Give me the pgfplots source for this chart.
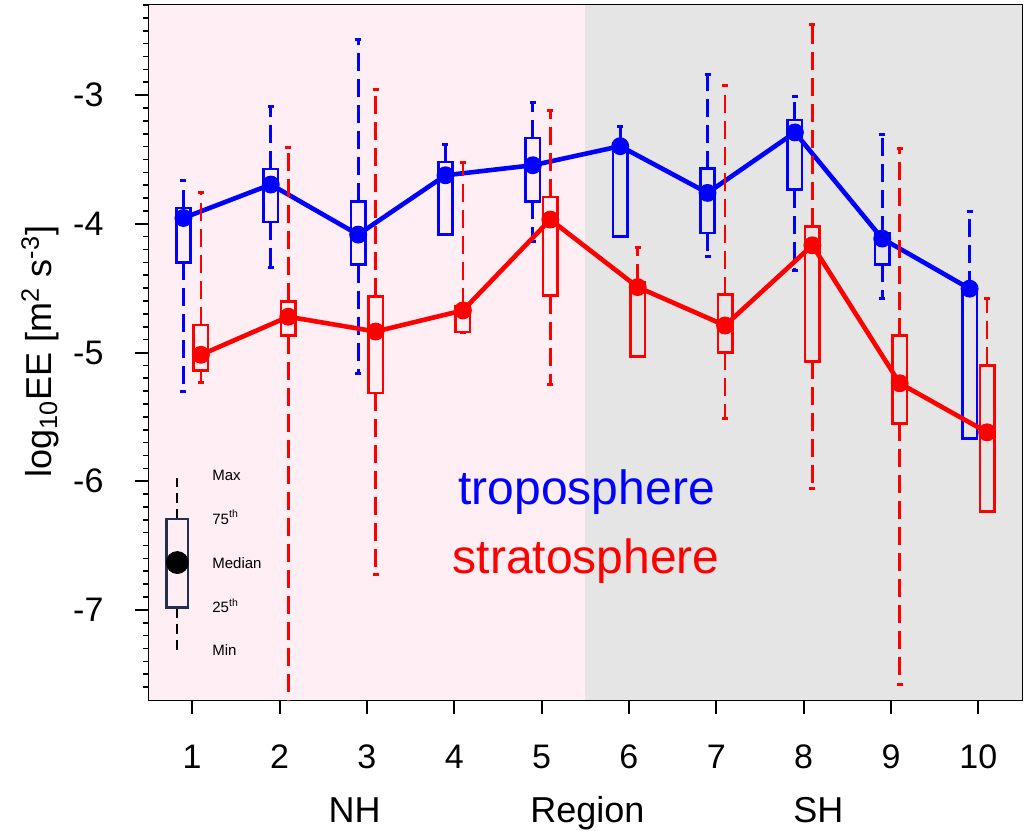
\documentclass[border=0pt]{standalone}
\usepackage{fontspec}
\setmainfont{Liberation Sans}
\usepackage{pgfplots}
\usepackage{pgfplotstable}
\pgfplotsset{compat=1.18}

\definecolor{nhpink}{RGB}{255,238,243}
\definecolor{shgray}{RGB}{229,229,229}
\definecolor{keynavy}{RGB}{31,48,80}

% region statistics: position, min, lower quartile, median, upper quartile, max
\pgfplotstableread{
x    min    q1     med    q3     max
0.9  -5.300 -4.300 -3.955 -3.877 -3.661
1.9  -4.336 -3.986 -3.695 -3.573 -3.088
2.9  -5.166 -4.318 -4.084 -3.825 -2.567
3.9  -4.082 -4.082 -3.623 -3.519 -3.381
4.9  -4.136 -3.825 -3.545 -3.332 -3.060
5.9  -4.097 -4.097 -3.397 -3.397 -3.241
6.9  -4.253 -4.071 -3.760 -3.571 -2.837
7.9  -4.362 -3.734 -3.290 -3.195 -3.013
8.9  -4.577 -4.315 -4.115 -4.076 -3.306
9.9  -5.667 -5.667 -4.504 -4.504 -3.903
}\tropo
\pgfplotstableread{
x    min    q1     med    q3     max
1.1  -5.231 -5.140 -5.018 -4.785 -3.760
2.1  -8.000 -4.868 -4.722 -4.603 -3.405
3.1  -6.722 -5.314 -4.837 -4.564 -2.956
4.1  -4.842 -4.842 -4.673 -4.640 -3.524
5.1  -5.251 -4.559 -3.967 -3.791 -3.117
6.1  -5.029 -5.029 -4.492 -4.453 -4.185
7.1  -5.514 -4.998 -4.790 -4.551 -2.928
8.1  -6.058 -5.068 -4.167 -4.019 -2.455
9.1  -7.576 -5.550 -5.239 -4.868 -3.415
10.1 -6.237 -6.237 -5.620 -5.101 -4.577
}\strato

\pgfplotsset{
  % a plot that shows only its error bars
  barsonly/.style={only marks, mark=text, text mark={}, forget plot},
  whisker/.style={barsonly,
    error bars/y explicit, error bars/error mark=|,
    error bars/error bar style={#1, line width=1.4pt, dash pattern=on 9pt off 4pt},
    error bars/error mark options={#1, solid, line width=1.5pt, mark size=1.5pt}},
  boxside/.style={barsonly,
    error bars/y explicit, error bars/y dir=plus, error bars/error mark=none,
    error bars/error bar style={#1, solid, line width=1.3pt, line cap=rect}},
  boxedge/.style={barsonly,
    error bars/x dir=both, error bars/x fixed=0.0825, error bars/error mark=none,
    error bars/error bar style={#1, solid, line width=1.3pt, line cap=rect}},
}

% boxes and whiskers of one series
\newcommand{\boxseries}[2]{%
  \addplot[#1, whisker=#1, error bars/y dir=plus]
    table[x=x, y=q3, y error expr=\thisrow{max}-\thisrow{q3}] {#2};
  \addplot[#1, whisker=#1, error bars/y dir=minus]
    table[x=x, y=q1, y error expr=\thisrow{q1}-\thisrow{min}] {#2};
  \addplot[#1, boxside=#1]
    table[x expr=\thisrow{x}-0.0825, y=q1, y error expr=\thisrow{q3}-\thisrow{q1}] {#2};
  \addplot[#1, boxside=#1]
    table[x expr=\thisrow{x}+0.0825, y=q1, y error expr=\thisrow{q3}-\thisrow{q1}] {#2};
  \addplot[#1, boxedge=#1] table[x=x, y=q1] {#2};
  \addplot[#1, boxedge=#1] table[x=x, y=q3] {#2};
}

\begin{document}
\begin{tikzpicture}
\begin{axis}[
  at={(0,0)}, anchor=south west,
  scale only axis, width=436.75pt, height=347.5pt,
  xmin=0.5, xmax=10.5, ymin=-7.7, ymax=-2.3,
  xtick={1,...,10}, xticklabels={1,2,3,4,5,6,7,8,9,10},
  ytick={-7,-6,-5,-4,-3}, yticklabels={-7,-6,-5,-4,-3},
  minor ytick={-7.6,-7.5,...,-2.35},
  tick align=outside, xtick pos=left, ytick pos=left,
  major tick length=7pt, minor tick length=3pt,
  major tick style={black, line width=1pt},
  minor tick style={black, line width=0.8pt},
  axis line style={line width=1pt},
  tick label style={font=\fontsize{17}{20}\selectfont},
  xticklabel style={yshift=-12pt},
  yticklabel style={xshift=-12pt},
]
% hemisphere shading
\addplot[draw=none, fill=nhpink] coordinates {(0.5,-7.7) (5.5,-7.7) (5.5,-2.3) (0.5,-2.3)};
\addplot[draw=none, fill=shgray] coordinates {(5.5,-7.7) (10.5,-7.7) (10.5,-2.3) (5.5,-2.3)};

% troposphere
\boxseries{blue}{\tropo}
\addplot[blue, line width=2.3pt, mark=*, mark size=3.3pt, mark options={solid}]
  table[x=x, y=med] {\tropo};

% stratosphere
\boxseries{red}{\strato}
\addplot[red, line width=2.3pt, mark=*, mark size=3.3pt, mark options={solid}]
  table[x=x, y=med] {\strato};

% key
\addplot[black, line width=1.1pt, dash pattern=on 5pt off 3pt, unbounded coords=jump]
  coordinates {(0.83,-6.294) (0.83,-5.978) (0.83,nan) (0.83,-6.982) (0.83,-7.314)};
\addplot[keynavy, barsonly,
  error bars/y explicit, error bars/y dir=plus, error bars/error mark=none,
  error bars/error bar style={keynavy, solid, line width=1.1pt, line cap=rect}]
  coordinates {(0.705,-6.982) +- (0,0.688) (0.955,-6.982) +- (0,0.688)};
\addplot[keynavy, barsonly,
  error bars/x dir=both, error bars/x fixed=0.125, error bars/error mark=none,
  error bars/error bar style={keynavy, solid, line width=1.1pt, line cap=rect}]
  coordinates {(0.83,-6.982) (0.83,-6.294)};
\addplot[black, only marks, mark=*, mark size=5.5pt] coordinates {(0.83,-6.632)};
\begin{scope}[every node/.style={anchor=base west, font=\fontsize{7.5}{9}\selectfont, inner sep=0pt}]
\node at (axis description cs:0.0727,0.3165) {Max};
\node at (axis description cs:0.0727,0.2532) {75\textsuperscript{th}};
\node at (axis description cs:0.0727,0.1895) {Median};
\node at (axis description cs:0.0727,0.1256) {25\textsuperscript{th}};
\node at (axis description cs:0.0727,0.0647) {Min};
\end{scope}

\node[anchor=base, text=blue, font=\fontsize{24}{28}\selectfont, inner sep=0pt]
  at (axis description cs:0.5016,0.2806) {troposphere};
\node[anchor=base, text=red, font=\fontsize{24}{28}\selectfont, inner sep=0pt]
  at (axis description cs:0.5011,0.1823) {stratosphere};
\end{axis}

\begin{scope}[every node/.style={font=\fontsize{18}{21}\selectfont, inner sep=0pt}]
\node[anchor=base] at (103.1pt,-61.35pt) {NH};
\node[anchor=base] at (219.5pt,-61.35pt) {Region};
\node[anchor=base] at (334.9pt,-61.35pt) {SH};
\node[rotate=90] at (-54.25pt,174.25pt) {log\textsubscript{10}EE [m\textsuperscript{2} s\textsuperscript{-3}]};
\end{scope}

\pgfresetboundingbox
\useasboundingbox (-74.25pt,-65pt) rectangle (439.75pt,350pt);
\end{tikzpicture}
\end{document}
